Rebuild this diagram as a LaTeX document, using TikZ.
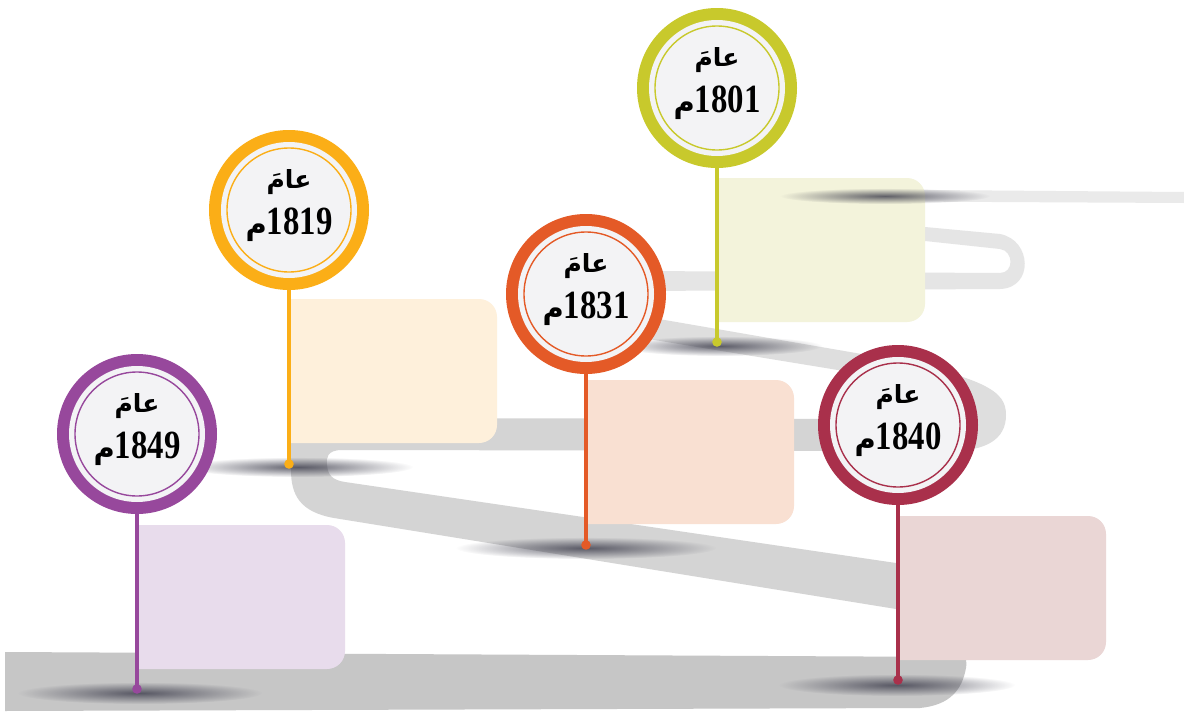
\documentclass[tikz,border=0pt]{standalone}
\usepackage{fontspec}
\usetikzlibrary{fadings}
\TeXXeTstate=1
\newfontfamily\arabicfont[Script=Arabic]{DejaVu Sans}
\newfontfamily\numfont[FakeStretch=0.82]{Liberation Serif}
\definecolor{cLime}{HTML}{C8C92C}
\definecolor{cOrange}{HTML}{FBAE17}
\definecolor{cRed}{HTML}{E45A27}
\definecolor{cCrimson}{HTML}{A9304B}
\definecolor{cPurple}{HTML}{97489C}
\definecolor{bLime}{HTML}{F3F3DB}
\definecolor{bOrange}{HTML}{FEF0DB}
\definecolor{bRed}{HTML}{F9E0D2}
\definecolor{bCrimson}{HTML}{EAD6D5}
\definecolor{bPurple}{HTML}{E8DCEC}
\definecolor{face}{HTML}{F3F3F5}
\definecolor{roadA}{HTML}{EAEAEA}
\definecolor{roadB}{HTML}{E5E5E5}
\definecolor{roadC}{HTML}{DEDEDE}
\definecolor{roadD}{HTML}{D4D4D4}
\definecolor{roadF}{HTML}{C6C6C6}
\definecolor{shadowcol}{HTML}{3C3C4B}
\tikzfading[name=softfade, inner color=transparent!0, outer color=transparent!100]
\tikzset{
  pinring/.style={circle, minimum size=160pt, inner sep=0pt},
  pinface/.style={circle, minimum size=136pt, inner sep=0pt, fill=face},
  pinline/.style={circle, minimum size=124pt, inner sep=0pt, line width=1.4pt},
  stemline/.style={line width=3.5pt},
  shadowblob/.style={fill=shadowcol, path fading=softfade, opacity=0.8},
  toplabel/.style={anchor=base, inner sep=0pt, font=\arabicfont\bfseries\fontsize{25}{27}\selectfont},
  yearlabel/.style={anchor=base, inner sep=0pt},
}
\newcommand\infobox[5]{%
  \fill[#5] (#1,#2) -- ({#3-18},#2) .. controls ({#3-8},#2) and (#3,{#2+8}) .. (#3,{#2+18})
    -- (#3,{#4-18}) .. controls (#3,{#4-8}) and ({#3-8},#4) .. ({#3-18},#4) -- (#1,#4) -- cycle;}
\newcommand\drawpin[6]{%
  \node[pinring, fill=#5] (#1) at (#2,#3) {};
  \node[pinface] (#1-face) at (#1) {};
  \node[pinline, draw=#5] (#1-line) at (#1) {};
  \coordinate (#1-foot) at (#2,#4);
  \draw[stemline, draw=#5] (#1.south) -- (#1-foot);
  \fill[#5] (#1-foot) circle (4.8pt);
  \node[toplabel] (#1-top) at (#2,{#3-22}) {\beginR عامَ\endR};
  \node[yearlabel] (#1-year) at (#2,{#3+24}) {{\arabicfont\bfseries\fontsize{29}{31}\selectfont\beginR م\endR}{\numfont\bfseries\fontsize{40}{42}\selectfont #6}};
}
\begin{document}
\begin{tikzpicture}[x=1pt,y=-1pt]
\useasboundingbox (0,0) rectangle (1184,712);
\fill[white] (0,0) rectangle (1184,712);
% road
\fill[roadA] (800,189) -- (1184,192) -- (1184,203) -- (800,201) -- cycle;
\fill[roadB] (850,220) -- (1000,234) .. controls (1032,240) and (1034,288) .. (1000,289)
  -- (640,291) -- (640,271) -- (1000,273) .. controls (1014,273) and (1014,251) .. (1000,249)
  -- (850,233) -- cycle;
\fill[roadC] (630,314) -- (850,352) .. controls (990,376) and (1006,392) .. (1006,415)
  .. controls (1006,440) and (985,451) .. (950,451) -- (900,451) -- (900,419)
  -- (930,420) .. controls (960,420) and (960,395) .. (930,385) -- (850,372) -- (630,336) -- cycle;
\fill[roadD] (902,451) -- (342,450) .. controls (327,450) and (326,458) .. (327,465)
  .. controls (328,475) and (332,480) .. (345,482) -- (896,563) -- (930,568) -- (930,614)
  -- (896,609) -- (334,518) .. controls (300,512) and (291,495) .. (291,470) -- (291,445)
  .. controls (291,425) and (305,418) .. (330,418) -- (902,419) -- cycle;
\fill[roadF] (5,652) -- (960,657) .. controls (967,657) and (967,662) .. (966,668)
  .. controls (962,690) and (950,705) .. (920,708) -- (5,711) -- cycle;
% shadows on the road
\fill[shadowblob] (720,346) ellipse [x radius=102pt, y radius=10pt];
\fill[shadowblob] (298,467) ellipse [x radius=115pt, y radius=10pt];
\fill[shadowblob] (586,548) ellipse [x radius=130pt, y radius=11pt];
\fill[shadowblob] (897,685) ellipse [x radius=118pt, y radius=11pt];
\fill[shadowblob] (140,693) ellipse [x radius=122pt, y radius=11pt];
% boxes
\infobox{717}{178}{925}{322}{bLime}
\infobox{289}{299}{497}{443}{bOrange}
\infobox{586}{380}{794}{524}{bRed}
\infobox{898}{516}{1106}{660}{bCrimson}
\infobox{137}{525}{345}{669}{bPurple}
\fill[shadowblob] (885,196) ellipse [x radius=105pt, y radius=8pt];
% pins
\drawpin{p1801}{717}{88}{342}{cLime}{1801}
\drawpin{p1819}{289}{210}{464}{cOrange}{1819}
\drawpin{p1831}{586}{294}{545}{cRed}{1831}
\drawpin{p1840}{898}{425}{680}{cCrimson}{1840}
\drawpin{p1849}{137}{434}{689}{cPurple}{1849}
\end{tikzpicture}
\end{document}
